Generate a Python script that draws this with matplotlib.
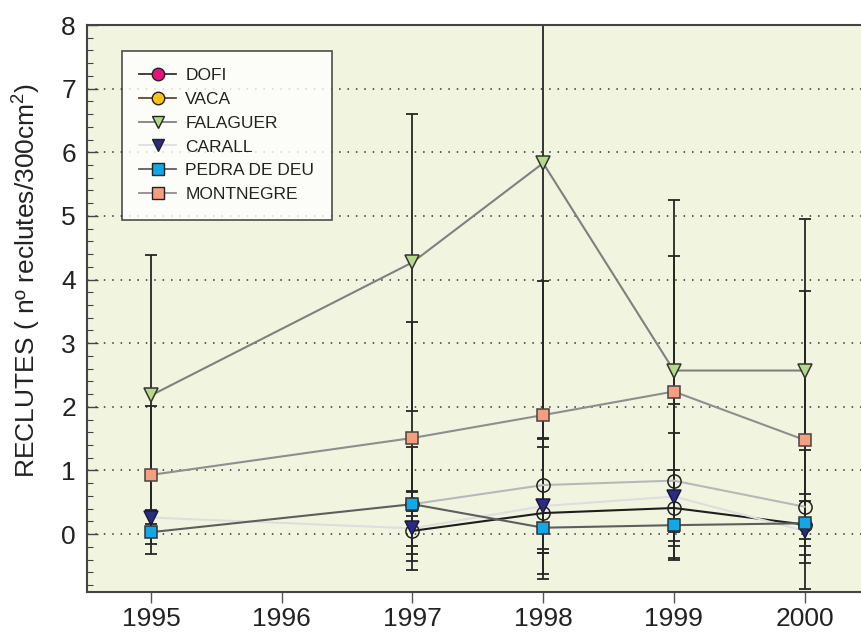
import numpy as np
import matplotlib
matplotlib.use("Agg")
import matplotlib.pyplot as plt
from matplotlib.lines import Line2D
from matplotlib.ticker import MultipleLocator

plt.rcParams['font.family'] = ['Liberation Sans', 'DejaVu Sans']
plt.rcParams['mathtext.default'] = 'regular'

years = [1995, 1997, 1998, 1999, 2000]
nan = np.nan
names = ["DOFI", "VACA", "FALAGUER", "CARALL", "PEDRA DE DEU", "MONTNEGRE"]
dofi = [nan, 0.05, 0.33, 0.41, 0.15]
dofi_err = [nan, 0.62, 1.04, 0.60, 0.48]
vaca = [nan, 0.47, 0.77, 0.84, 0.43]
vaca_err = [nan, 0.90, 0.74, 1.21, 0.89]
falaguer = [2.18, 4.27, 5.83, 2.57, 2.57]
falaguer_err = [2.20, 2.33, 6.12, 2.68, 2.38]
carall = [0.26, 0.09, 0.44, 0.59, 0.05]
carall_err = [0.10, 0.28, 1.06, 1.00, 0.13]
pedra = [0.03, 0.47, 0.10, 0.14, 0.17]
pedra_err = [0.35, 0.19, 0.40, 0.10, 0.35]
montnegre = [0.93, 1.51, 1.87, 2.24, 1.48]
montnegre_err = [1.09, 1.83, 2.11, 2.13, 2.34]
xticks = [1995, 1996, 1997, 1998, 1999, 2000]
yticks = [0, 1, 2, 3, 4, 5, 6, 7, 8]

series = [
    (dofi, dofi_err, dict(line='#1e1e1e', marker='o', face='none', edge='#222222'),
     dict(line='#333333', face='#e8117f')),
    (vaca, vaca_err, dict(line='#b8b8b8', marker='o', face='none', edge='#222222'),
     dict(line='#5c4b2e', face='#ffc20e')),
    (falaguer, falaguer_err, dict(line='#808080', marker='v', face='#b5d98a', edge='#333333'),
     dict(line='#808080', face='#b5d98a')),
    (carall, carall_err, dict(line='#dedede', marker='v', face='#2b2c7f', edge='#1a1a40'),
     dict(line='#e0e0e0', face='#2b2c7f')),
    (pedra, pedra_err, dict(line='#5e5e5e', marker='s', face='#10a8e6', edge='#333333'),
     dict(line='#5e5e5e', face='#10a8e6')),
    (montnegre, montnegre_err, dict(line='#8e8e8e', marker='s', face='#f79e7f', edge='#444444'),
     dict(line='#8e8e8e', face='#f79e7f')),
]

fig = plt.figure(figsize=(8.62, 6.33), dpi=100)
ax = fig.add_axes([0.101, 0.0648, 0.899, 0.8957])
ax.set_facecolor('#f1f5df')

x = np.array(years, dtype=float)
for vals, errs, st, _ in series:
    v = np.array(vals, dtype=float)
    e = np.array(errs, dtype=float)
    ax.errorbar(x, v, yerr=e, fmt='none', ecolor='#262626', elinewidth=1.3,
                capsize=4.3, capthick=1.3, zorder=2)

for vals, errs, st, _ in series:
    v = np.array(vals, dtype=float)
    m = ~np.isnan(v)
    ax.plot(x[m], v[m], color=st['line'], lw=1.5, zorder=3)

for vals, errs, st, _ in series:
    v = np.array(vals, dtype=float)
    m = ~np.isnan(v)
    ms = 8.6 if st['marker'] == 's' else 9.5
    ax.plot(x[m], v[m], linestyle='none', marker=st['marker'], markersize=ms,
            markerfacecolor=st['face'], markeredgecolor=st['edge'],
            markeredgewidth=1.1, zorder=4)

ax.set_xlim(1994.51, 2000.44)
ax.set_ylim(-0.91, 8.0)
ax.set_xticks(xticks)
ax.set_xticklabels([str(t) for t in xticks])
ax.set_yticks(yticks)
ax.yaxis.set_minor_locator(MultipleLocator(0.2))
ax.tick_params(axis='x', direction='out', length=8, width=1, color='#555555',
               labelsize=19, pad=3, labelcolor='#222222')
ax.tick_params(axis='y', which='major', direction='in', length=8, width=1,
               color='#444444', labelsize=19, pad=8, labelcolor='#222222')
ax.tick_params(axis='y', which='minor', direction='in', length=4, width=0.8,
               color='#444444')
for yv in yticks[:-1]:
    ax.axhline(yv, color='#333333', lw=1.1, linestyle=(0, (1, 4.5)), zorder=1)

for s in ['left', 'top', 'bottom']:
    ax.spines[s].set_color('#444444')
    ax.spines[s].set_linewidth(1.5)
ax.spines['right'].set_visible(False)

ax.set_ylabel('RECLUTES ( nº reclutes/300cm$^{2}$)', fontsize=19, color='#222222')
ax.yaxis.set_label_coords(-0.057, 0.55)

handles = []
for (vals, errs, st, lg), name in zip(series, names):
    handles.append(Line2D([0], [0], color=lg['line'], lw=1.3, marker=st['marker'],
                          markersize=9 if st['marker'] != 's' else 8.5,
                          markerfacecolor=lg['face'], markeredgecolor='#222222',
                          markeredgewidth=1.0))
leg = ax.legend(handles, names, loc='upper left', bbox_to_anchor=(0.045, 0.955),
                fontsize=12.5, frameon=True, fancybox=False, edgecolor='#222222',
                handlelength=2.1, handletextpad=0.55, labelspacing=0.5,
                borderpad=1.0, borderaxespad=0)
for t in leg.get_texts():
    t.set_color('#222222')
leg.get_frame().set_linewidth(1.2)
leg.get_frame().set_facecolor('white')
leg.set_zorder(6)

fig.savefig('out.png', dpi=100)
